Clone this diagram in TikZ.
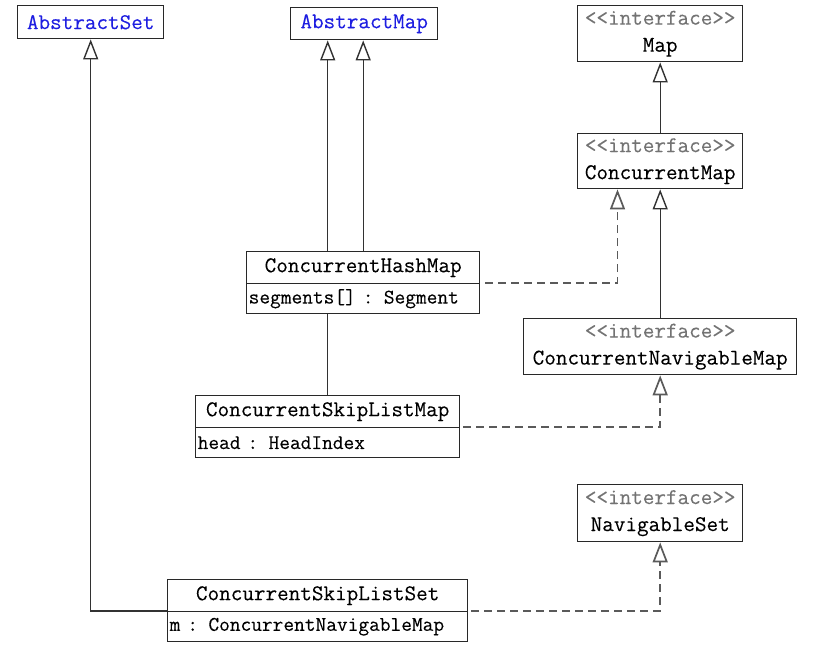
\documentclass[tikz,border=0pt]{standalone}
\usepackage{fontspec}
\setmonofont[FakeBold=0.15]{Latin Modern Mono}
\usetikzlibrary{arrows.meta,calc}
\pgfdeclarelayer{background}
\pgfsetlayers{background,main}
\definecolor{boxc}{RGB}{40,40,40}
\definecolor{linec}{RGB}{50,50,50}
\definecolor{dashc}{RGB}{90,90,90}
\definecolor{absblue}{RGB}{30,30,225}
\definecolor{ifgray}{RGB}{115,115,115}
\newcommand\namefont{\ttfamily\fontsize{22.5}{27}\selectfont}
\newcommand\attrfont{\ttfamily\fontsize{20.8}{25}\selectfont}
\newcommand\ifacetxt{\textcolor{ifgray}{<{}<interface>{}>}}
\begin{document}
\begin{tikzpicture}[x=1pt,y=-1pt,
  box/.style={draw=boxc, line width=1.4pt, fill=white, inner sep=0pt, anchor=north west, font=\namefont},
  attrbox/.style={box, font=\attrfont, align=left, inner xsep=2pt},
  inh/.style={draw=linec, line width=1.4pt, -{Triangle[open, length=20pt, width=15pt, fill=white]}},
  real/.style={draw=dashc, line width=1.7pt, dash pattern=on 8pt off 5pt, -{Triangle[open, length=20pt, width=15pt, fill=white]}}]
\useasboundingbox (0,0) rectangle (820,646);

% boxes
\node[box, minimum width=146pt, minimum height=33pt, text=absblue] (aset) at (17,5) {AbstractSet};
\node[box, minimum width=147pt, minimum height=32pt, text=absblue] (amap) at (290,7) {AbstractMap};
\node[box, minimum width=165pt, minimum height=56pt, align=center] (map) at (577,5) {\ifacetxt\\Map};
\node[box, minimum width=165pt, minimum height=55pt, align=center] (cmap) at (577,133) {\ifacetxt\\ConcurrentMap};
\node[box, minimum width=233pt, minimum height=32pt] (chm) at (246,251) {ConcurrentHashMap};
\node[attrbox, minimum height=30pt, text width=229pt] (chma) at (246,283) {segments[] : Segment};
\node[box, minimum width=273pt, minimum height=56pt, align=center] (cnm) at (523,318) {\ifacetxt\\ConcurrentNavigableMap};
\node[box, minimum width=264pt, minimum height=32pt] (cslm) at (195,395) {ConcurrentSkipListMap};
\node[attrbox, minimum height=30pt, text width=260pt] (cslma) at (195,427) {head : HeadIndex};
\node[box, minimum width=165pt, minimum height=57pt, align=center] (nset) at (577,484) {\ifacetxt\\NavigableSet};
\node[box, minimum width=300pt, minimum height=32pt] (csls) at (167,579) {ConcurrentSkipListSet};
\node[attrbox, minimum height=30pt, text width=296pt] (cslsa) at (167,611) {m : ConcurrentNavigableMap};

\coordinate (cmapL) at ($(cmap.south west)+(40.5,0)$);

% connectors
\begin{pgfonlayer}{background}
\draw[inh] (cslm.north) -- (cslm.north |- amap.south);
\draw[inh] (chm.north) -- (chm.north |- amap.south);
\draw[inh] (cslsa.north west) -| (aset.south);
\draw[inh] (cmap.north) -- (map.south);
\draw[inh] (cnm.north) -- (cmap.south);
\draw[real, dash phase=8pt] (chma.north east) -| (cmapL);
\draw[real, dash phase=10pt] (cslma.north east) -| (cnm.south);
\draw[real, dash phase=10pt] (cslsa.north east) -| (nset.south);
\end{pgfonlayer}
\end{tikzpicture}
\end{document}
